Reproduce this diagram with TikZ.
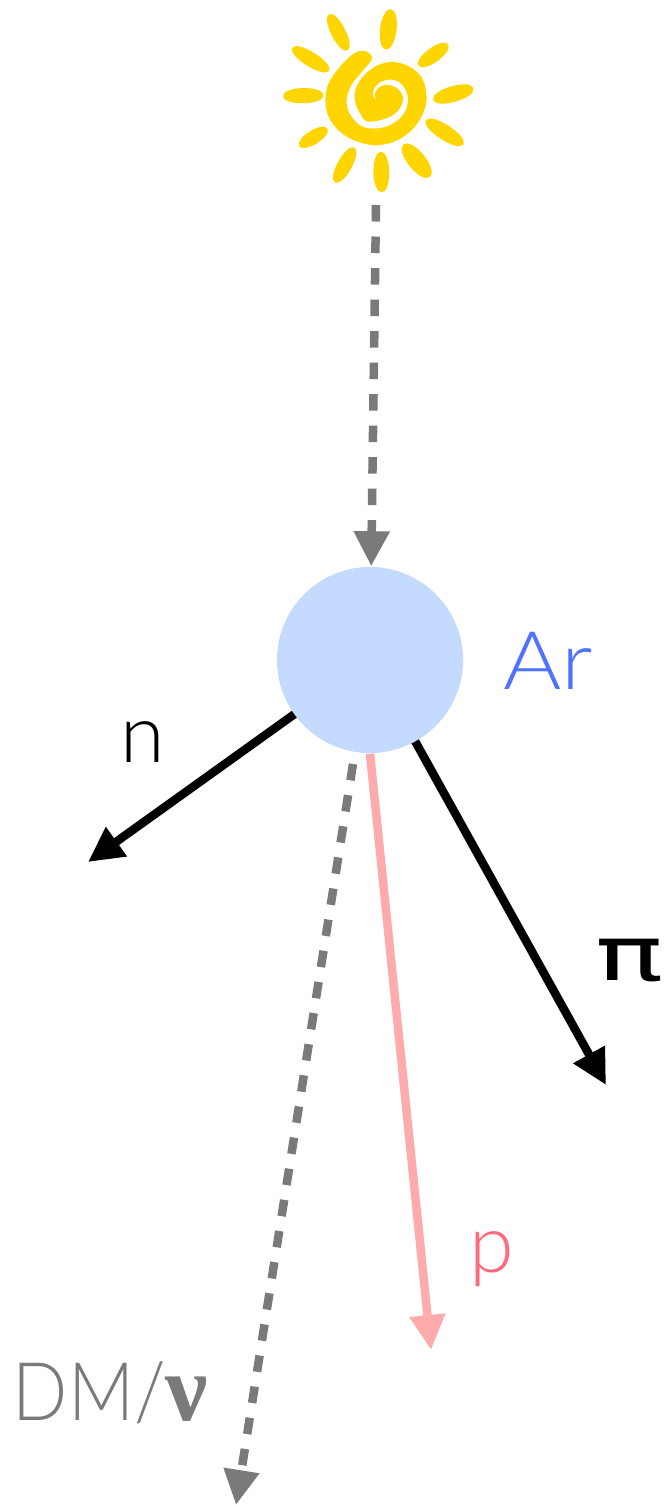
\documentclass[tikz,border=0pt]{standalone}
\usepackage{fontspec}
\usepackage{graphicx}
\usetikzlibrary{positioning,calc,arrows.meta}
\setmainfont{Lato Light}
\newfontfamily\grk{DejaVu Sans}
\newfontfamily\grkb{Liberation Serif Bold}
\definecolor{sunyel}{HTML}{FFD500}
\definecolor{argon}{HTML}{C4DAFE}
\definecolor{arblue}{HTML}{4F73FF}
\definecolor{dmgray}{HTML}{7A7A7A}
\definecolor{plight}{HTML}{FFABAB}
\definecolor{ptext}{HTML}{FF6B7D}
\tikzset{>={Triangle[length=0.35cm,width=0.34cm]}}
\tikzset{nucl/.style={circle,fill=argon,minimum size=1.86cm,inner sep=0pt}  }
\tikzset{darr/.style={->,line width=0.085cm,dmgray,dash pattern=on 0.165cm off 0.15cm}  }
\tikzset{larr/.style={->,line width=0.085cm}  }
\tikzset{sunp/.style={fill=sunyel,draw=sunyel,line width=0.025cm,line join=round}  }
\tikzset{lab/.style={anchor=base west,inner sep=0pt,font=\fontsize{23}{28}\selectfont}  }
\begin{document}
\begin{tikzpicture}[x=0.01cm,y=-0.01cm]
		\useasboundingbox (0,0) rectangle (665,1506);
		\begin{scope}[shift={(320,45)},x=0.01cm/3,y=-0.01cm/3]
			\path[sunp] plot[smooth cycle,tension=0.6] coordinates {(152,40) (135,22) (105,28) (65,65) (30,115) (20,165) (30,215) (60,255) (105,283) (165,297) (225,285) (275,250) (305,205) (316,160) (305,105) (270,70) (225,55) (185,60) (150,80) (122,110) (108,145) (112,180) (125,205) (140,225) (180,222) (220,205) (243,175) (243,150) (225,130) (200,123) (180,130) (167,150) (178,172) (158,160) (155,140) (170,115) (205,100) (245,112) (268,160) (250,215) (195,250) (130,250) (90,215) (76,170) (90,120) (125,75)};
		\end{scope}
		\begin{scope}[shift={(270,0)},x=0.01cm/3,y=-0.01cm/3]
			\foreach \cx/\cy/\rl/\rw/\ang in {205/97/57/18/-63,355/88/57/21/83,490/165/51/18/36,550/282/59/20/16,524/397/63/19/-33,440/482/59/23/-51,334/516/57/20/91,224/495/56/18/61,130/412/46/17/32,100/287/57/19/1,122/178/61/18/-32}
				\path[sunp] (\cx,\cy) ellipse [x radius=\rl*0.01cm/3,y radius=\rw*0.01cm/3,rotate=\ang];
		\end{scope}
		\coordinate (sunb) at (376,205);
		\coordinate (ntip) at (88,862);
		\coordinate (pitip) at (606,1085);
		\coordinate (ptip) at (431,1350);
		\coordinate (dms) at (353,764);
		\coordinate (dmtip) at (236,1505);
		\draw[larr] (370,660) -- (ntip);
		\draw[larr] (370,660) -- (pitip);
		\node[nucl] (ar) at (370,660) {};
		\draw[darr] (sunb) -- (ar);
		\draw[larr,plight] (ar.south) -- (ptip);
		\draw[darr] (dms) -- (dmtip);
		\node[lab,text=arblue] (arl) at (503,689) {\scalebox{1.1}[1]{Ar}};
		\node[lab] (nl) at (120,762) {n};
		\node[lab,text=ptext] (pl) at (469,1272) {p};
		\node[lab,text=dmgray] (dml) at (12,1420) {\scalebox{0.9}[1]{DM/}{\fontsize{27}{30}\grkb ν}};
		\node[lab] (pil) at (595,980) {\fontsize{21.5}{28}\grk\scalebox{1.5}[1]{π}};
	\end{tikzpicture}
\end{document}
